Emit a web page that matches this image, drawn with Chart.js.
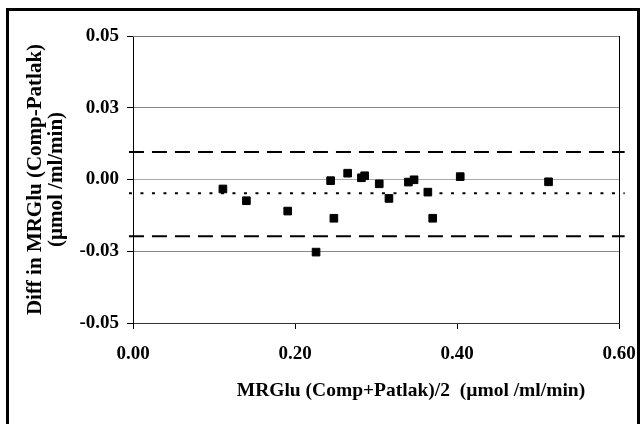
<!DOCTYPE html>
<html>
<head>
<meta charset="utf-8">
<script src="https://cdn.jsdelivr.net/npm/chart.js@4.4.1/dist/chart.umd.min.js"></script>
<style>
  html, body { margin: 0; padding: 0; background: #fff; }
  #wrap { position: relative; width: 644px; height: 424px; overflow: hidden; }
  #frame { position: absolute; left: 6px; top: 8px; width: 628px; height: 440px; border: 3px solid #000; pointer-events: none; }
</style>
</head>
<body>
<div id="wrap">
  <canvas id="diffChart" width="644" height="424"></canvas>
  <div id="frame"></div>
</div>
<script>
// Bland-Altman points: mean of the two methods vs their difference
const meanX = [0.111, 0.140, 0.191, 0.226, 0.244, 0.248, 0.265, 0.282, 0.286, 0.304,
               0.316, 0.340, 0.347, 0.364, 0.370, 0.404, 0.513];
const diffY = [-0.0033, -0.0074, -0.0110, -0.0253, -0.0004, -0.0135, 0.0022, 0.0006, 0.0013, -0.0015,
               -0.0066, -0.0009, -0.0001, -0.0044, -0.0135, 0.0010, -0.0008];

// mean difference and limits of agreement
const limitX = [-0.005, 0.607];
const upperLimit = 0.0096;
const meanDiff = -0.0048;
const lowerLimit = -0.0198;

const xTickValues = [0, 0.2, 0.4, 0.6];
const xTickLabels = ['0.00', '0.20', '0.40', '0.60'];
const yTickValues = [-0.05, -0.025, 0, 0.025, 0.05];
const yTickLabels = ['-0.05', '-0.03', '0.00', '0.03', '0.05'];

const serif = "'Liberation Serif', 'Times New Roman', serif";

const points = meanX.map((x, i) => ({ x: x, y: diffY[i] }));
const hLine = (v) => limitX.map(x => ({ x: x, y: v }));

const frameAndTitle = {
    id: 'frameAndTitle',
    beforeDatasetsDraw(chart) {
        const { ctx, chartArea: a } = chart;
        ctx.save();
        ctx.lineWidth = 1;
        ctx.strokeStyle = '#777';
        ctx.beginPath();
        ctx.moveTo(a.left, a.top + 0.5);
        ctx.lineTo(a.right, a.top + 0.5);
        ctx.stroke();
        ctx.strokeStyle = '#000';
        ctx.beginPath();
        ctx.moveTo(a.right + 0.5, a.top);
        ctx.lineTo(a.right + 0.5, a.bottom);
        ctx.stroke();
        ctx.restore();
    },
    afterDraw(chart) {
        const { ctx, chartArea: a } = chart;
        ctx.save();
        ctx.font = 'bold 19.5px ' + serif;
        ctx.fillStyle = '#000';
        ctx.textAlign = 'center';
        ctx.textBaseline = 'middle';
        ctx.fillText('MRGlu (Comp+Patlak)/2  (\u00b5mol /ml/min)', a.left + (a.right - a.left) * 0.572, a.bottom + 68);
        ctx.restore();
    }
};

const ctx = document.getElementById('diffChart').getContext('2d');
const diffChart = new Chart(ctx, {
    data: {
        datasets: [
            {
                type: 'scatter',
                data: points,
                pointStyle: 'rect',
                pointRadius: 5.4,
                backgroundColor: '#000',
                borderColor: '#000',
                borderWidth: 1
            },
            {
                type: 'line',
                data: hLine(upperLimit),
                borderColor: '#000',
                borderWidth: 2,
                borderDash: [15, 8],
                pointRadius: 0,
                clip: false
            },
            {
                type: 'line',
                data: hLine(meanDiff),
                borderColor: '#000',
                borderWidth: 2,
                borderDash: [3, 8.5],
                pointRadius: 0,
                clip: false
            },
            {
                type: 'line',
                data: hLine(lowerLimit),
                borderColor: '#000',
                borderWidth: 2,
                borderDash: [15, 8],
                pointRadius: 0,
                clip: false
            }
        ]
    },
    options: {
        responsive: false,
        animation: false,
        devicePixelRatio: 1,
        layout: { padding: { left: 0, top: 36, right: 25, bottom: 0 } },
        plugins: {
            legend: { display: false },
            tooltip: { enabled: false }
        },
        scales: {
            x: {
                type: 'linear',
                min: 0,
                max: 0.6,
                afterBuildTicks: (scale) => { scale.ticks = xTickValues.map(v => ({ value: v })); },
                afterFit: (scale) => {
                    scale.height = 101;
                    scale.paddingLeft = 0;
                    scale.paddingRight = 0;
                },
                ticks: {
                    callback: (v, i) => xTickLabels[i],
                    color: '#000',
                    padding: 14,
                    maxRotation: 0,
                    font: { family: serif, size: 19, weight: 'bold' }
                },
                grid: { drawOnChartArea: false, tickLength: 6, tickColor: '#000' },
                border: { color: '#333', width: 1 }
            },
            y: {
                type: 'linear',
                min: -0.05,
                max: 0.05,
                afterBuildTicks: (scale) => { scale.ticks = yTickValues.map(v => ({ value: v })); },
                afterFit: (scale) => { scale.width = 133; },
                ticks: {
                    callback: (v, i) => yTickLabels[i],
                    color: '#000',
                    padding: 8,
                    font: { family: serif, size: 19, weight: 'bold' }
                },
                grid: {
                    tickLength: 6,
                    tickColor: '#000',
                    color: (c) => {
                        if (!c.tick || Math.abs(c.tick.value) > 0.04) return 'rgba(0,0,0,0)';
                        return c.tick.value === 0 ? '#aaa' : '#888';
                    }
                },
                border: { color: '#000', width: 1 },
                title: {
                    display: true,
                    text: ['Diff in MRGlu (Comp-Patlak)', '(\u00b5mol /ml/min)'],
                    color: '#000',
                    padding: { top: 25, bottom: 0 },
                    font: { family: serif, size: 21, weight: 'bold', lineHeight: 1.0 }
                }
            }
        }
    },
    plugins: [frameAndTitle]
});
</script>
</body>
</html>
